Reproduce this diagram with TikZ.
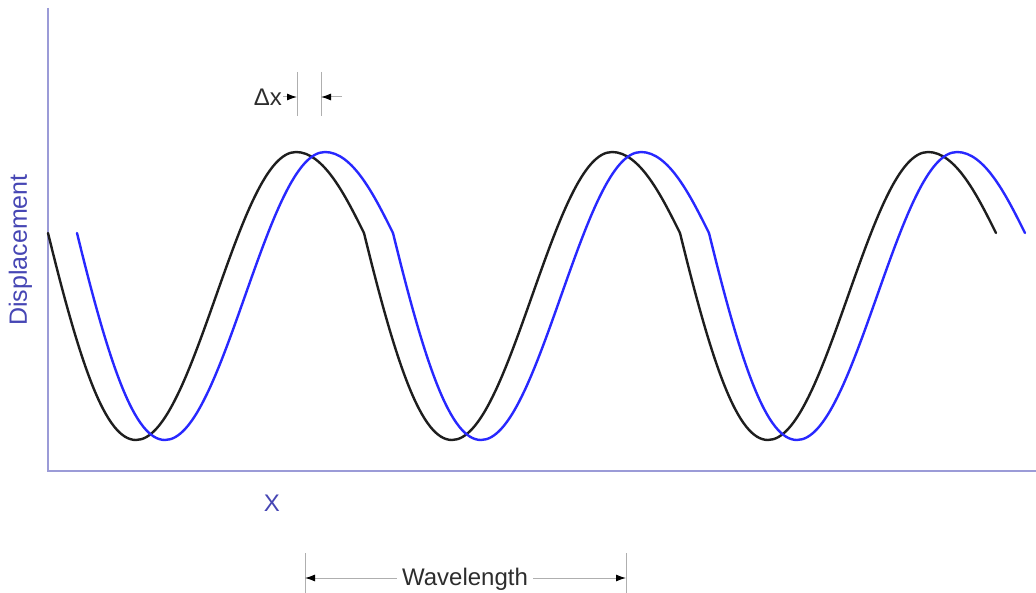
\documentclass[tikz,border=0pt]{standalone}
\usepackage{fontspec}
\setmainfont{Liberation Sans}
\usetikzlibrary{arrows.meta}
\definecolor{axiscol}{RGB}{155,155,215}
\definecolor{labcol}{RGB}{70,70,180}
\definecolor{wblue}{RGB}{40,40,255}
\definecolor{wblack}{RGB}{30,30,30}
\definecolor{dimcol}{RGB}{175,175,175}
\definecolor{txtcol}{RGB}{45,45,45}
\begin{document}
\begin{tikzpicture}[x=1pt,y=-1pt,
  axis/.style={draw=axiscol,line width=2pt},
  wave/.style={line width=2.4pt,line join=round,line cap=round},
  dimline/.style={draw=dimcol,line width=1pt},
  dimarrow/.style={draw=dimcol,line width=1pt,-{Latex[length=10pt,width=7pt,color=black]}},
  lbl/.style={font=\fontsize{24}{28}\selectfont,text=txtcol,inner sep=1pt}]
\useasboundingbox (0,0) rectangle (1036,593);
% axes
\coordinate (ytop) at (48,8);
\coordinate (orig) at (48,471);
\coordinate (xend) at (1036,471);
\draw[axis] (ytop) -- (orig) -- (xend);
% waves
\foreach \s in {0,316,632} {
  \draw[wave,wblack,xshift=48+\s]
    (0,233) .. controls (33,368) and (58,440) .. (88,440)
    .. controls (116.8,440) and (141.3,371.6) .. (168,296)
    .. controls (194.7,220.4) and (219.2,152) .. (248,152)
    .. controls (276,152) and (298,197) .. (316,233);
  \draw[wave,wblue,xshift=77+\s]
    (0,233) .. controls (33,368) and (58,440) .. (88,440)
    .. controls (116.8,440) and (141.3,371.6) .. (168,296)
    .. controls (194.7,220.4) and (219.2,152) .. (248,152)
    .. controls (276,152) and (298,197) .. (316,233);
}
% axis labels
\node[font=\fontsize{25}{30}\selectfont,text=labcol,rotate=90,anchor=base,inner sep=0pt] (disp) at (27,250) {Displacement};
\node[lbl,text=labcol] (xl) at (272,503) {X};
% delta x
\node[lbl,anchor=east] (dx) at (283,97) {Δx};
\coordinate (t1a) at (297,72);
\coordinate (t1b) at (297,116);
\coordinate (t2a) at (321,72);
\coordinate (t2b) at (321,116);
\draw[dimline] (t1a) -- (t1b);
\draw[dimline] (t2a) -- (t2b);
\coordinate (a1) at (297,97);
\coordinate (a2s) at (342,97);
\coordinate (a2) at (321,97);
\draw[dimarrow] (dx.east) -- (a1);
\draw[dimarrow] (a2s) -- (a2);
% wavelength
\node[lbl,inner sep=5pt] (wl) at (465,579) {Wavelength};
\coordinate (wL) at (305,578);
\coordinate (wR) at (626,578);
\coordinate (wLa) at (305,553);
\coordinate (wLb) at (305,593);
\coordinate (wRa) at (626,553);
\coordinate (wRb) at (626,593);
\draw[dimline] (wLa) -- (wLb);
\draw[dimline] (wRa) -- (wRb);
\draw[dimarrow] (wl.west |- wL) -- (wL);
\draw[dimarrow] (wl.east |- wR) -- (wR);
\end{tikzpicture}
\end{document}
